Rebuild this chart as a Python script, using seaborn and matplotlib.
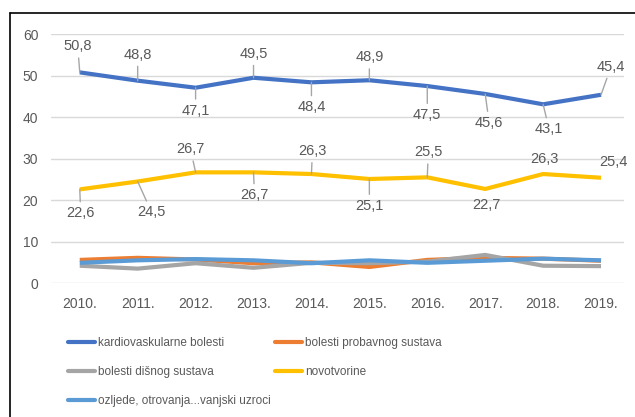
import matplotlib
matplotlib.use("Agg")
import matplotlib.pyplot as plt
from matplotlib.lines import Line2D
import pandas as pd
import seaborn as sns

# data
years = ["2010.", "2011.", "2012.", "2013.", "2014.", "2015.", "2016.", "2017.", "2018.", "2019."]
kardio = [50.8, 48.8, 47.1, 49.5, 48.4, 48.9, 47.5, 45.6, 43.1, 45.4]
probavni = [5.6, 6.1, 5.7, 4.8, 5.0, 3.9, 5.6, 6.1, 5.9, 5.4]
disni = [4.2, 3.5, 4.8, 3.7, 4.9, 4.8, 5.2, 6.8, 4.2, 4.1]
novotvorine = [22.6, 24.5, 26.7, 26.7, 26.3, 25.1, 25.5, 22.7, 26.3, 25.4]
ozljede = [4.9, 5.5, 5.8, 5.5, 4.8, 5.5, 4.9, 5.4, 5.9, 5.5]

names = ["kardiovaskularne bolesti", "bolesti probavnog sustava",
         "bolesti dišnog sustava", "novotvorine",
         "ozljede, otrovanja...vanjski uzroci"]
colors = ["#4472C4", "#ED7D31", "#A5A5A5", "#FFC000", "#5B9BD5"]

# label offsets in pixels (dx, dy, leader line?)
kardio_offsets = [(-2, 26, True), (0, 26, True), (0, -23, True), (0, 24, True), (0, -25, True),
                  (0, 23, True), (0, -29, True), (4, -29, True), (6, -25, True), (10, 28, True)]
novo_offsets = [(1, -24, True), (14, -31, True), (-5, 23, True), (1, -23, True), (1, 23, True),
                (0, -27, True), (1, 25, True), (1, -16, False), (1, 15, False), (12, 16, False)]

rows = []
for name, vals in zip(names, [kardio, probavni, disni, novotvorine, ozljede]):
    for i, v in enumerate(vals):
        rows.append({"idx": i, "value": v, "serija": name})
df = pd.DataFrame(rows)

sns.set_style("white")
plt.rcParams["font.family"] = ["Liberation Sans", "DejaVu Sans"]

fig = plt.figure(figsize=(6.35, 4.17), dpi=100)
ax = fig.add_axes([0.080, 0.321, 0.903, 0.597])

sns.lineplot(data=df, x="idx", y="value", hue="serija", hue_order=names,
             palette=colors, linewidth=3.0, ax=ax, legend=False, sort=False)
for ln in ax.get_lines():
    ln.set_solid_capstyle("butt")

ax.set_xlim(-0.5, 9.4)
ax.set_ylim(0, 60)
ax.set_yticks(range(0, 61, 10))
ax.set_xticks(range(len(years)))
ax.set_xticklabels(years)
ax.set_xlabel("")
ax.set_ylabel("")
ax.grid(axis="y", color="#D9D9D9", linewidth=1.0)
ax.set_axisbelow(True)
for s in ax.spines.values():
    s.set_visible(False)
ax.tick_params(axis="both", length=0, labelsize=10, colors="#595959")
ax.tick_params(axis="x", pad=10)
ax.tick_params(axis="y", pad=9)

# data labels with leader lines
def label_series(vals, offsets):
    for i, (v, (dx, dy, leader)) in enumerate(zip(vals, offsets)):
        kw = {}
        if leader:
            kw["arrowprops"] = dict(arrowstyle="-", color="#A6A6A6", lw=1.0,
                                    shrinkA=1, shrinkB=0)
        ax.annotate(f"{v:.1f}".replace(".", ","), xy=(i, v),
                    xytext=(dx * 0.72, dy * 0.72), textcoords="offset points",
                    ha="center", va="center", fontsize=10.5, color="#595959", **kw)

label_series(kardio, kardio_offsets)
label_series(novotvorine, novo_offsets)

# legend, two columns like the original (row-major order)
handles = [Line2D([], [], color=c, lw=3.0, solid_capstyle="round") for c in colors]
order = [0, 2, 4, 1, 3]
fig.legend([handles[k] for k in order], [names[k] for k in order],
           ncol=2, loc="upper left", bbox_to_anchor=(0.099, 0.203),
           frameon=False, fontsize=8.5, labelcolor="#595959",
           handlelength=2.3, handletextpad=0.25, columnspacing=0.35,
           labelspacing=1.45, borderaxespad=0)

# chart frame (top and left edges visible) and cut-off title
fig.add_artist(Line2D([0.0157, 1.0], [0.969, 0.969], color="black", lw=1.2,
                      transform=fig.transFigure))
fig.add_artist(Line2D([0.0157, 0.0157], [0.0, 0.969], color="black", lw=1.2,
                      transform=fig.transFigure))
fig.text(0.035, 0.991, "2010.-2019.", fontsize=15, fontweight="bold",
         family="Liberation Serif", va="bottom", ha="left", color="black")

fig.savefig("out.png", dpi=100)
